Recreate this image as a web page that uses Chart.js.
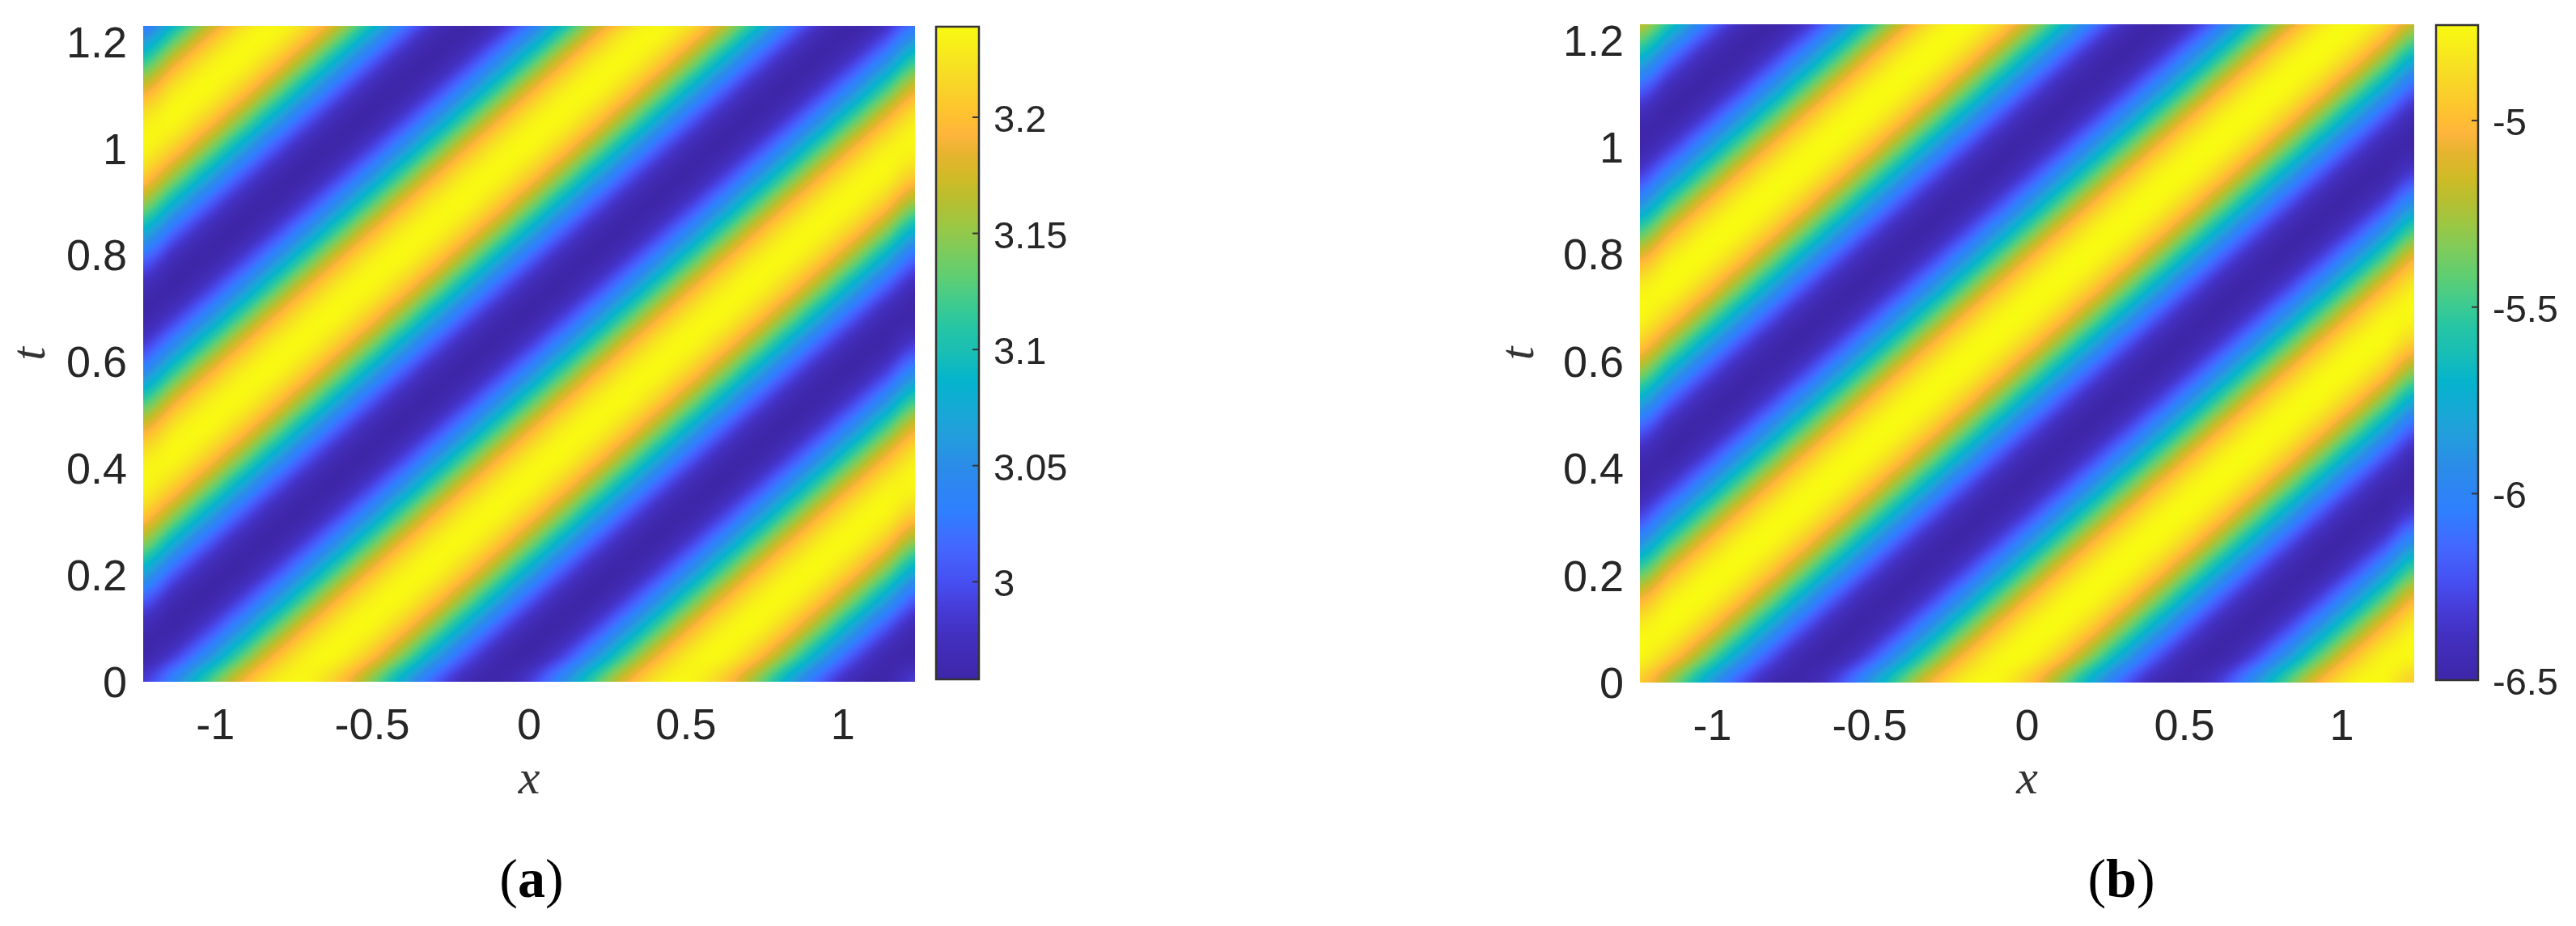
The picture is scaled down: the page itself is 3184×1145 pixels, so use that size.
<!DOCTYPE html>
<html>
<head>
<meta charset="utf-8">
<script src="https://cdn.jsdelivr.net/npm/chart.js@4"></script>
<style>
  html, body { margin: 0; padding: 0; background: #fff; }
  body { position: relative; width: 3184px; height: 1145px; overflow: hidden; }
  canvas { position: absolute; top: 0; }
  .cap { position: absolute; top: 1042px; width: 200px; text-align: center; font: 68px/1.3 "Liberation Serif", serif; color: #000; }
</style>
</head>
<body>
<canvas id="mainA" width="1150" height="1145" style="left:0"></canvas>
<canvas id="barA" width="240" height="1145" style="left:1140px"></canvas>
<canvas id="mainB" width="1300" height="1145" style="left:1700px"></canvas>
<canvas id="barB" width="190" height="1145" style="left:2994px"></canvas>
<div class="cap" style="left:557px">(<b>a</b>)</div>
<div class="cap" style="left:2522px">(<b>b</b>)</div>
<script>
const xTicks = [-1, -0.5, 0, 0.5, 1];
const tTicks = [0, 0.2, 0.4, 0.6, 0.8, 1, 1.2];
const barTicksA = [3, 3.05, 3.1, 3.15, 3.2];
const barTicksB = [-6.5, -6, -5.5, -5];
const rangeA = [2.958, 3.239];
const rangeB = [-6.5, -4.744];

// grid nodes the values were read at
const xNodes = [-1.23, -1.1275, -1.025, -0.9225, -0.82, -0.7175, -0.615, -0.5125, -0.41, -0.3075, -0.205, -0.1025, 0, 0.1025, 0.205, 0.3075, 0.41, 0.5125, 0.615, 0.7175, 0.82, 0.9225, 1.025, 1.1275, 1.23];
const tNodes = [0, 0.0528, 0.1056, 0.1584, 0.2112, 0.264, 0.3168, 0.3696, 0.4224, 0.4752, 0.528, 0.5808, 0.6336, 0.6864, 0.7392, 0.792, 0.8448, 0.8976, 0.9504, 1.0032, 1.056, 1.1088, 1.1616, 1.2144, 1.2672];

const valuesA = [
  [2.987,3.044,3.116,3.183,3.227,3.237,3.209,3.152,3.08,3.013,2.969,2.959,2.987,3.044,3.116,3.183,3.227,3.237,3.209,3.152,3.08,3.013,2.969,2.959,2.987],
  [2.959,2.987,3.044,3.116,3.183,3.227,3.237,3.209,3.152,3.08,3.013,2.969,2.959,2.987,3.044,3.116,3.183,3.227,3.237,3.209,3.152,3.08,3.013,2.969,2.959],
  [2.969,2.959,2.987,3.044,3.116,3.183,3.227,3.237,3.209,3.152,3.08,3.013,2.969,2.959,2.987,3.044,3.116,3.183,3.227,3.237,3.209,3.152,3.08,3.013,2.969],
  [3.013,2.969,2.959,2.987,3.044,3.116,3.183,3.227,3.237,3.209,3.152,3.08,3.013,2.969,2.959,2.987,3.044,3.116,3.183,3.227,3.237,3.209,3.152,3.08,3.013],
  [3.08,3.013,2.969,2.959,2.987,3.044,3.116,3.183,3.227,3.237,3.209,3.152,3.08,3.013,2.969,2.959,2.987,3.044,3.116,3.183,3.227,3.237,3.209,3.152,3.08],
  [3.152,3.08,3.013,2.969,2.959,2.987,3.044,3.116,3.183,3.227,3.237,3.209,3.152,3.08,3.013,2.969,2.959,2.987,3.044,3.116,3.183,3.227,3.237,3.209,3.152],
  [3.209,3.152,3.08,3.013,2.969,2.959,2.987,3.044,3.116,3.183,3.227,3.237,3.209,3.152,3.08,3.013,2.969,2.959,2.987,3.044,3.116,3.183,3.227,3.237,3.209],
  [3.237,3.209,3.152,3.08,3.013,2.969,2.959,2.987,3.044,3.116,3.183,3.227,3.237,3.209,3.152,3.08,3.013,2.969,2.959,2.987,3.044,3.116,3.183,3.227,3.237],
  [3.227,3.237,3.209,3.152,3.08,3.013,2.969,2.959,2.987,3.044,3.116,3.183,3.227,3.237,3.209,3.152,3.08,3.013,2.969,2.959,2.987,3.044,3.116,3.183,3.227],
  [3.183,3.227,3.237,3.209,3.152,3.08,3.013,2.969,2.959,2.987,3.044,3.116,3.183,3.227,3.237,3.209,3.152,3.08,3.013,2.969,2.959,2.987,3.044,3.116,3.183],
  [3.116,3.183,3.227,3.237,3.209,3.152,3.08,3.013,2.969,2.959,2.987,3.044,3.116,3.183,3.227,3.237,3.209,3.152,3.08,3.013,2.969,2.959,2.987,3.044,3.116],
  [3.044,3.116,3.183,3.227,3.237,3.209,3.152,3.08,3.013,2.969,2.959,2.987,3.044,3.116,3.183,3.227,3.237,3.209,3.152,3.08,3.013,2.969,2.959,2.987,3.044],
  [2.987,3.044,3.116,3.183,3.227,3.237,3.209,3.152,3.08,3.013,2.969,2.959,2.987,3.044,3.116,3.183,3.227,3.237,3.209,3.152,3.08,3.013,2.969,2.959,2.987],
  [2.959,2.987,3.044,3.116,3.183,3.227,3.237,3.209,3.152,3.08,3.013,2.969,2.959,2.987,3.044,3.116,3.183,3.227,3.237,3.209,3.152,3.08,3.013,2.969,2.959],
  [2.969,2.959,2.987,3.044,3.116,3.183,3.227,3.237,3.209,3.152,3.08,3.013,2.969,2.959,2.987,3.044,3.116,3.183,3.227,3.237,3.209,3.152,3.08,3.013,2.969],
  [3.013,2.969,2.959,2.987,3.044,3.116,3.183,3.227,3.237,3.209,3.152,3.08,3.013,2.969,2.959,2.987,3.044,3.116,3.183,3.227,3.237,3.209,3.152,3.08,3.013],
  [3.08,3.013,2.969,2.959,2.987,3.044,3.116,3.183,3.227,3.237,3.209,3.152,3.08,3.013,2.969,2.959,2.987,3.044,3.116,3.183,3.227,3.237,3.209,3.152,3.08],
  [3.152,3.08,3.013,2.969,2.959,2.987,3.044,3.116,3.183,3.227,3.237,3.209,3.152,3.08,3.013,2.969,2.959,2.987,3.044,3.116,3.183,3.227,3.237,3.209,3.152],
  [3.209,3.152,3.08,3.013,2.969,2.959,2.987,3.044,3.116,3.183,3.227,3.237,3.209,3.152,3.08,3.013,2.969,2.959,2.987,3.044,3.116,3.183,3.227,3.237,3.209],
  [3.237,3.209,3.152,3.08,3.013,2.969,2.959,2.987,3.044,3.116,3.183,3.227,3.237,3.209,3.152,3.08,3.013,2.969,2.959,2.987,3.044,3.116,3.183,3.227,3.237],
  [3.227,3.237,3.209,3.152,3.08,3.013,2.969,2.959,2.987,3.044,3.116,3.183,3.227,3.237,3.209,3.152,3.08,3.013,2.969,2.959,2.987,3.044,3.116,3.183,3.227],
  [3.183,3.227,3.237,3.209,3.152,3.08,3.013,2.969,2.959,2.987,3.044,3.116,3.183,3.227,3.237,3.209,3.152,3.08,3.013,2.969,2.959,2.987,3.044,3.116,3.183],
  [3.116,3.183,3.227,3.237,3.209,3.152,3.08,3.013,2.969,2.959,2.987,3.044,3.116,3.183,3.227,3.237,3.209,3.152,3.08,3.013,2.969,2.959,2.987,3.044,3.116],
  [3.044,3.116,3.183,3.227,3.237,3.209,3.152,3.08,3.013,2.969,2.959,2.987,3.044,3.116,3.183,3.227,3.237,3.209,3.152,3.08,3.013,2.969,2.959,2.987,3.044],
  [2.987,3.044,3.116,3.183,3.227,3.237,3.209,3.152,3.08,3.013,2.969,2.959,2.987,3.044,3.116,3.183,3.227,3.237,3.209,3.152,3.08,3.013,2.969,2.959,2.987]
];

const valuesB = [
  [-4.936,-5.305,-5.757,-6.174,-6.442,-6.489,-6.304,-5.935,-5.483,-5.066,-4.798,-4.751,-4.936,-5.305,-5.757,-6.174,-6.442,-6.489,-6.304,-5.935,-5.483,-5.066,-4.798,-4.751,-4.936],
  [-4.751,-4.936,-5.305,-5.757,-6.174,-6.442,-6.489,-6.304,-5.935,-5.483,-5.066,-4.798,-4.751,-4.936,-5.305,-5.757,-6.174,-6.442,-6.489,-6.304,-5.935,-5.483,-5.066,-4.798,-4.751],
  [-4.798,-4.751,-4.936,-5.305,-5.757,-6.174,-6.442,-6.489,-6.304,-5.935,-5.483,-5.066,-4.798,-4.751,-4.936,-5.305,-5.757,-6.174,-6.442,-6.489,-6.304,-5.935,-5.483,-5.066,-4.798],
  [-5.066,-4.798,-4.751,-4.936,-5.305,-5.757,-6.174,-6.442,-6.489,-6.304,-5.935,-5.483,-5.066,-4.798,-4.751,-4.936,-5.305,-5.757,-6.174,-6.442,-6.489,-6.304,-5.935,-5.483,-5.066],
  [-5.483,-5.066,-4.798,-4.751,-4.936,-5.305,-5.757,-6.174,-6.442,-6.489,-6.304,-5.935,-5.483,-5.066,-4.798,-4.751,-4.936,-5.305,-5.757,-6.174,-6.442,-6.489,-6.304,-5.935,-5.483],
  [-5.935,-5.483,-5.066,-4.798,-4.751,-4.936,-5.305,-5.757,-6.174,-6.442,-6.489,-6.304,-5.935,-5.483,-5.066,-4.798,-4.751,-4.936,-5.305,-5.757,-6.174,-6.442,-6.489,-6.304,-5.935],
  [-6.304,-5.935,-5.483,-5.066,-4.798,-4.751,-4.936,-5.305,-5.757,-6.174,-6.442,-6.489,-6.304,-5.935,-5.483,-5.066,-4.798,-4.751,-4.936,-5.305,-5.757,-6.174,-6.442,-6.489,-6.304],
  [-6.489,-6.304,-5.935,-5.483,-5.066,-4.798,-4.751,-4.936,-5.305,-5.757,-6.174,-6.442,-6.489,-6.304,-5.935,-5.483,-5.066,-4.798,-4.751,-4.936,-5.305,-5.757,-6.174,-6.442,-6.489],
  [-6.442,-6.489,-6.304,-5.935,-5.483,-5.066,-4.798,-4.751,-4.936,-5.305,-5.757,-6.174,-6.442,-6.489,-6.304,-5.935,-5.483,-5.066,-4.798,-4.751,-4.936,-5.305,-5.757,-6.174,-6.442],
  [-6.174,-6.442,-6.489,-6.304,-5.935,-5.483,-5.066,-4.798,-4.751,-4.936,-5.305,-5.757,-6.174,-6.442,-6.489,-6.304,-5.935,-5.483,-5.066,-4.798,-4.751,-4.936,-5.305,-5.757,-6.174],
  [-5.757,-6.174,-6.442,-6.489,-6.304,-5.935,-5.483,-5.066,-4.798,-4.751,-4.936,-5.305,-5.757,-6.174,-6.442,-6.489,-6.304,-5.935,-5.483,-5.066,-4.798,-4.751,-4.936,-5.305,-5.757],
  [-5.305,-5.757,-6.174,-6.442,-6.489,-6.304,-5.935,-5.483,-5.066,-4.798,-4.751,-4.936,-5.305,-5.757,-6.174,-6.442,-6.489,-6.304,-5.935,-5.483,-5.066,-4.798,-4.751,-4.936,-5.305],
  [-4.936,-5.305,-5.757,-6.174,-6.442,-6.489,-6.304,-5.935,-5.483,-5.066,-4.798,-4.751,-4.936,-5.305,-5.757,-6.174,-6.442,-6.489,-6.304,-5.935,-5.483,-5.066,-4.798,-4.751,-4.936],
  [-4.751,-4.936,-5.305,-5.757,-6.174,-6.442,-6.489,-6.304,-5.935,-5.483,-5.066,-4.798,-4.751,-4.936,-5.305,-5.757,-6.174,-6.442,-6.489,-6.304,-5.935,-5.483,-5.066,-4.798,-4.751],
  [-4.798,-4.751,-4.936,-5.305,-5.757,-6.174,-6.442,-6.489,-6.304,-5.935,-5.483,-5.066,-4.798,-4.751,-4.936,-5.305,-5.757,-6.174,-6.442,-6.489,-6.304,-5.935,-5.483,-5.066,-4.798],
  [-5.066,-4.798,-4.751,-4.936,-5.305,-5.757,-6.174,-6.442,-6.489,-6.304,-5.935,-5.483,-5.066,-4.798,-4.751,-4.936,-5.305,-5.757,-6.174,-6.442,-6.489,-6.304,-5.935,-5.483,-5.066],
  [-5.483,-5.066,-4.798,-4.751,-4.936,-5.305,-5.757,-6.174,-6.442,-6.489,-6.304,-5.935,-5.483,-5.066,-4.798,-4.751,-4.936,-5.305,-5.757,-6.174,-6.442,-6.489,-6.304,-5.935,-5.483],
  [-5.935,-5.483,-5.066,-4.798,-4.751,-4.936,-5.305,-5.757,-6.174,-6.442,-6.489,-6.304,-5.935,-5.483,-5.066,-4.798,-4.751,-4.936,-5.305,-5.757,-6.174,-6.442,-6.489,-6.304,-5.935],
  [-6.304,-5.935,-5.483,-5.066,-4.798,-4.751,-4.936,-5.305,-5.757,-6.174,-6.442,-6.489,-6.304,-5.935,-5.483,-5.066,-4.798,-4.751,-4.936,-5.305,-5.757,-6.174,-6.442,-6.489,-6.304],
  [-6.489,-6.304,-5.935,-5.483,-5.066,-4.798,-4.751,-4.936,-5.305,-5.757,-6.174,-6.442,-6.489,-6.304,-5.935,-5.483,-5.066,-4.798,-4.751,-4.936,-5.305,-5.757,-6.174,-6.442,-6.489],
  [-6.442,-6.489,-6.304,-5.935,-5.483,-5.066,-4.798,-4.751,-4.936,-5.305,-5.757,-6.174,-6.442,-6.489,-6.304,-5.935,-5.483,-5.066,-4.798,-4.751,-4.936,-5.305,-5.757,-6.174,-6.442],
  [-6.174,-6.442,-6.489,-6.304,-5.935,-5.483,-5.066,-4.798,-4.751,-4.936,-5.305,-5.757,-6.174,-6.442,-6.489,-6.304,-5.935,-5.483,-5.066,-4.798,-4.751,-4.936,-5.305,-5.757,-6.174],
  [-5.757,-6.174,-6.442,-6.489,-6.304,-5.935,-5.483,-5.066,-4.798,-4.751,-4.936,-5.305,-5.757,-6.174,-6.442,-6.489,-6.304,-5.935,-5.483,-5.066,-4.798,-4.751,-4.936,-5.305,-5.757],
  [-5.305,-5.757,-6.174,-6.442,-6.489,-6.304,-5.935,-5.483,-5.066,-4.798,-4.751,-4.936,-5.305,-5.757,-6.174,-6.442,-6.489,-6.304,-5.935,-5.483,-5.066,-4.798,-4.751,-4.936,-5.305],
  [-4.936,-5.305,-5.757,-6.174,-6.442,-6.489,-6.304,-5.935,-5.483,-5.066,-4.798,-4.751,-4.936,-5.305,-5.757,-6.174,-6.442,-6.489,-6.304,-5.935,-5.483,-5.066,-4.798,-4.751,-4.936]
];

// colour ramp sampled from the colorbar
const rampStops = [0, 0.068, 0.109, 0.151, 0.2, 0.257, 0.326, 0.375, 0.416, 0.458, 0.5, 0.539, 0.576, 0.617, 0.659, 0.696, 0.729, 0.766, 0.804, 0.836, 0.858, 0.927, 1];
const rampColors = ['#3e26a8', '#4230c0', '#473cd8', '#4650f2', '#4466ff', '#2f7fff', '#2b8ce8', '#239edc', '#15aad5', '#05b4cc', '#19beb5', '#25c5a5', '#3fcb8f', '#5fce72', '#7fcb5a', '#9cc743', '#b4bf32', '#cfbb26', '#e5b42f', '#ffb53c', '#ffbe32', '#f7dc25', '#f8fa12'];

const lut = [];
for (let i = 0; i <= 1023; i++) {
  const f = i / 1023;
  let k = 0;
  while (k < rampStops.length - 2 && f > rampStops[k + 1]) k++;
  const w = (f - rampStops[k]) / (rampStops[k + 1] - rampStops[k]);
  const a = parseInt(rampColors[k].slice(1), 16), b = parseInt(rampColors[k + 1].slice(1), 16);
  lut.push([16, 8, 0].map(s => Math.round(((a >> s) & 255) * (1 - w) + ((b >> s) & 255) * w)));
}
function colorOf(v, range) {
  const f = Math.min(1, Math.max(0, (v - range[0]) / (range[1] - range[0])));
  return lut[Math.round(f * 1023)];
}

function cubic(p0, p1, p2, p3, u) {
  return p1 + 0.5 * u * (p2 - p0 + u * (2 * p0 - 5 * p1 + 4 * p2 - p3 + u * (3 * (p1 - p2) + p3 - p0)));
}
// interpolated shading between the grid nodes, like shading interp
function shade(grid, x, t) {
  const fx = (x - xNodes[0]) / (xNodes[1] - xNodes[0]), ft = (t - tNodes[0]) / (tNodes[1] - tNodes[0]);
  const j = Math.min(xNodes.length - 2, Math.max(0, Math.floor(fx)));
  const i = Math.min(tNodes.length - 2, Math.max(0, Math.floor(ft)));
  const col = [];
  for (let r = i - 1; r <= i + 2; r++) {
    const row = grid[Math.min(grid.length - 1, Math.max(0, r))];
    const at = c => row[Math.min(row.length - 1, Math.max(0, c))];
    col.push(cubic(at(j - 1), at(j), at(j + 1), at(j + 2), fx - j));
  }
  return cubic(col[0], col[1], col[2], col[3], ft - i);
}

const heatmap = {
  id: 'heatmap',
  beforeDatasetsDraw(chart, args, opts) {
    const { ctx, chartArea, scales } = chart;
    const left = Math.round(chartArea.left), top = Math.round(chartArea.top);
    const w = Math.round(chartArea.right) - left, h = Math.round(chartArea.bottom) - top;
    const img = ctx.createImageData(w, h);
    let p = 0;
    for (let py = 0; py < h; py++) {
      const t = scales.y.getValueForPixel(top + py + 0.5);
      for (let px = 0; px < w; px++) {
        const x = scales.x.getValueForPixel(left + px + 0.5);
        const c = colorOf(shade(opts.grid, x, t), opts.range);
        img.data[p++] = c[0]; img.data[p++] = c[1]; img.data[p++] = c[2]; img.data[p++] = 255;
      }
    }
    ctx.putImageData(img, left, top);
  }
};

const colorbar = {
  id: 'colorbar',
  beforeDatasetsDraw(chart, args, opts) {
    const { ctx, chartArea, scales } = chart;
    const { left, right, top, bottom } = chartArea;
    for (let py = Math.round(top); py < bottom; py++) {
      const c = colorOf(scales.y.getValueForPixel(py + 0.5), opts.range);
      ctx.fillStyle = 'rgb(' + c.join(',') + ')';
      ctx.fillRect(left, py, right - left, 1);
    }
    ctx.strokeStyle = '#333';
    ctx.lineWidth = 2.5;
    ctx.strokeRect(left, top, right - left, bottom - top);
    ctx.lineWidth = 2;
    scales.y.ticks.forEach(tk => {
      const y = scales.y.getPixelForValue(tk.value);
      ctx.beginPath();
      ctx.moveTo(right - 8, y);
      ctx.lineTo(right, y);
      ctx.stroke();
    });
  }
};

const tickColor = '#262626';
const sans = '"Liberation Sans", Arial, sans-serif';

// keep the plot box where it is, labels may hang over its edges
function noOverhang(s) {
  s.paddingTop = 0; s.paddingBottom = 0; s.paddingLeft = 0; s.paddingRight = 0;
}

function mainChart(id, grid, range, sizes) {
  const points = [];
  grid.forEach((row, i) => row.forEach((z, j) => points.push({ x: xNodes[j], y: tNodes[i], z: z })));
  return new Chart(document.getElementById(id), {
    type: 'scatter',
    data: { datasets: [{ data: points, pointRadius: 0 }] },
    plugins: [heatmap],
    options: {
      responsive: false,
      animation: false,
      devicePixelRatio: 1,
      layout: { autoPadding: false, padding: { top: sizes.top, right: sizes.right, left: 0, bottom: 0 } },
      plugins: { legend: { display: false }, tooltip: { enabled: false }, heatmap: { grid: grid, range: range } },
      scales: {
        x: {
          type: 'linear', min: -1.23, max: 1.23,
          grid: { display: false, drawTicks: false }, border: { display: false },
          afterBuildTicks: s => { s.ticks = xTicks.map(v => ({ value: v })); },
          afterFit: s => { s.height = sizes.bottom; noOverhang(s); },
          ticks: { color: tickColor, font: { family: sans, size: 54 }, padding: 24, maxRotation: 0, autoSkip: false, callback: v => String(v) },
          title: { display: true, text: 'x', color: '#333', font: { family: '"Liberation Serif", serif', style: 'italic', size: 60, lineHeight: 1 }, padding: { top: 0, bottom: 150 } }
        },
        y: {
          type: 'linear', min: 0, max: 1.23,
          grid: { display: false, drawTicks: false }, border: { display: false },
          afterBuildTicks: s => { s.ticks = tTicks.map(v => ({ value: v })); },
          afterFit: s => { s.width = sizes.left; noOverhang(s); },
          ticks: { color: tickColor, font: { family: sans, size: 54 }, padding: 20, labelOffset: 4, autoSkip: false, callback: v => String(v) },
          title: { display: true, text: 't', color: '#333', font: { family: '"Liberation Serif", serif', style: 'italic', size: 60, lineHeight: 1 }, padding: { top: sizes.titleGap, bottom: 0 } }
        }
      }
    }
  });
}

function barChart(id, range, tickValues, sizes) {
  return new Chart(document.getElementById(id), {
    type: 'scatter',
    data: { datasets: [{ data: [{ x: 0, y: range[0] }, { x: 0, y: range[1] }], pointRadius: 0 }] },
    plugins: [colorbar],
    options: {
      responsive: false,
      animation: false,
      devicePixelRatio: 1,
      layout: { autoPadding: false, padding: { top: sizes.top, left: sizes.left, right: 0, bottom: sizes.bottom } },
      plugins: { legend: { display: false }, tooltip: { enabled: false }, colorbar: { range: range } },
      scales: {
        x: { type: 'linear', display: false },
        y: {
          type: 'linear', position: 'right', min: range[0], max: range[1],
          grid: { display: false, drawTicks: false }, border: { display: false },
          afterBuildTicks: s => { s.ticks = tickValues.map(v => ({ value: v })); },
          afterFit: s => { s.width = sizes.axis; noOverhang(s); },
          ticks: { color: tickColor, font: { family: sans, size: 47 }, padding: 18, labelOffset: 5, autoSkip: false, callback: v => String(v) }
        }
      }
    }
  });
}

mainChart('mainA', valuesA, rangeA, { left: 177, right: 19, top: 32, bottom: 302, titleGap: 9 });
barChart('barA', rangeA, barTicksA, { left: 17, top: 33, bottom: 305, axis: 170 });
mainChart('mainB', valuesB, rangeB, { left: 327, right: 16, top: 30, bottom: 301, titleGap: 149 });
barChart('barB', rangeB, barTicksB, { left: 17, top: 31, bottom: 304, axis: 121 });
</script>
</body>
</html>
